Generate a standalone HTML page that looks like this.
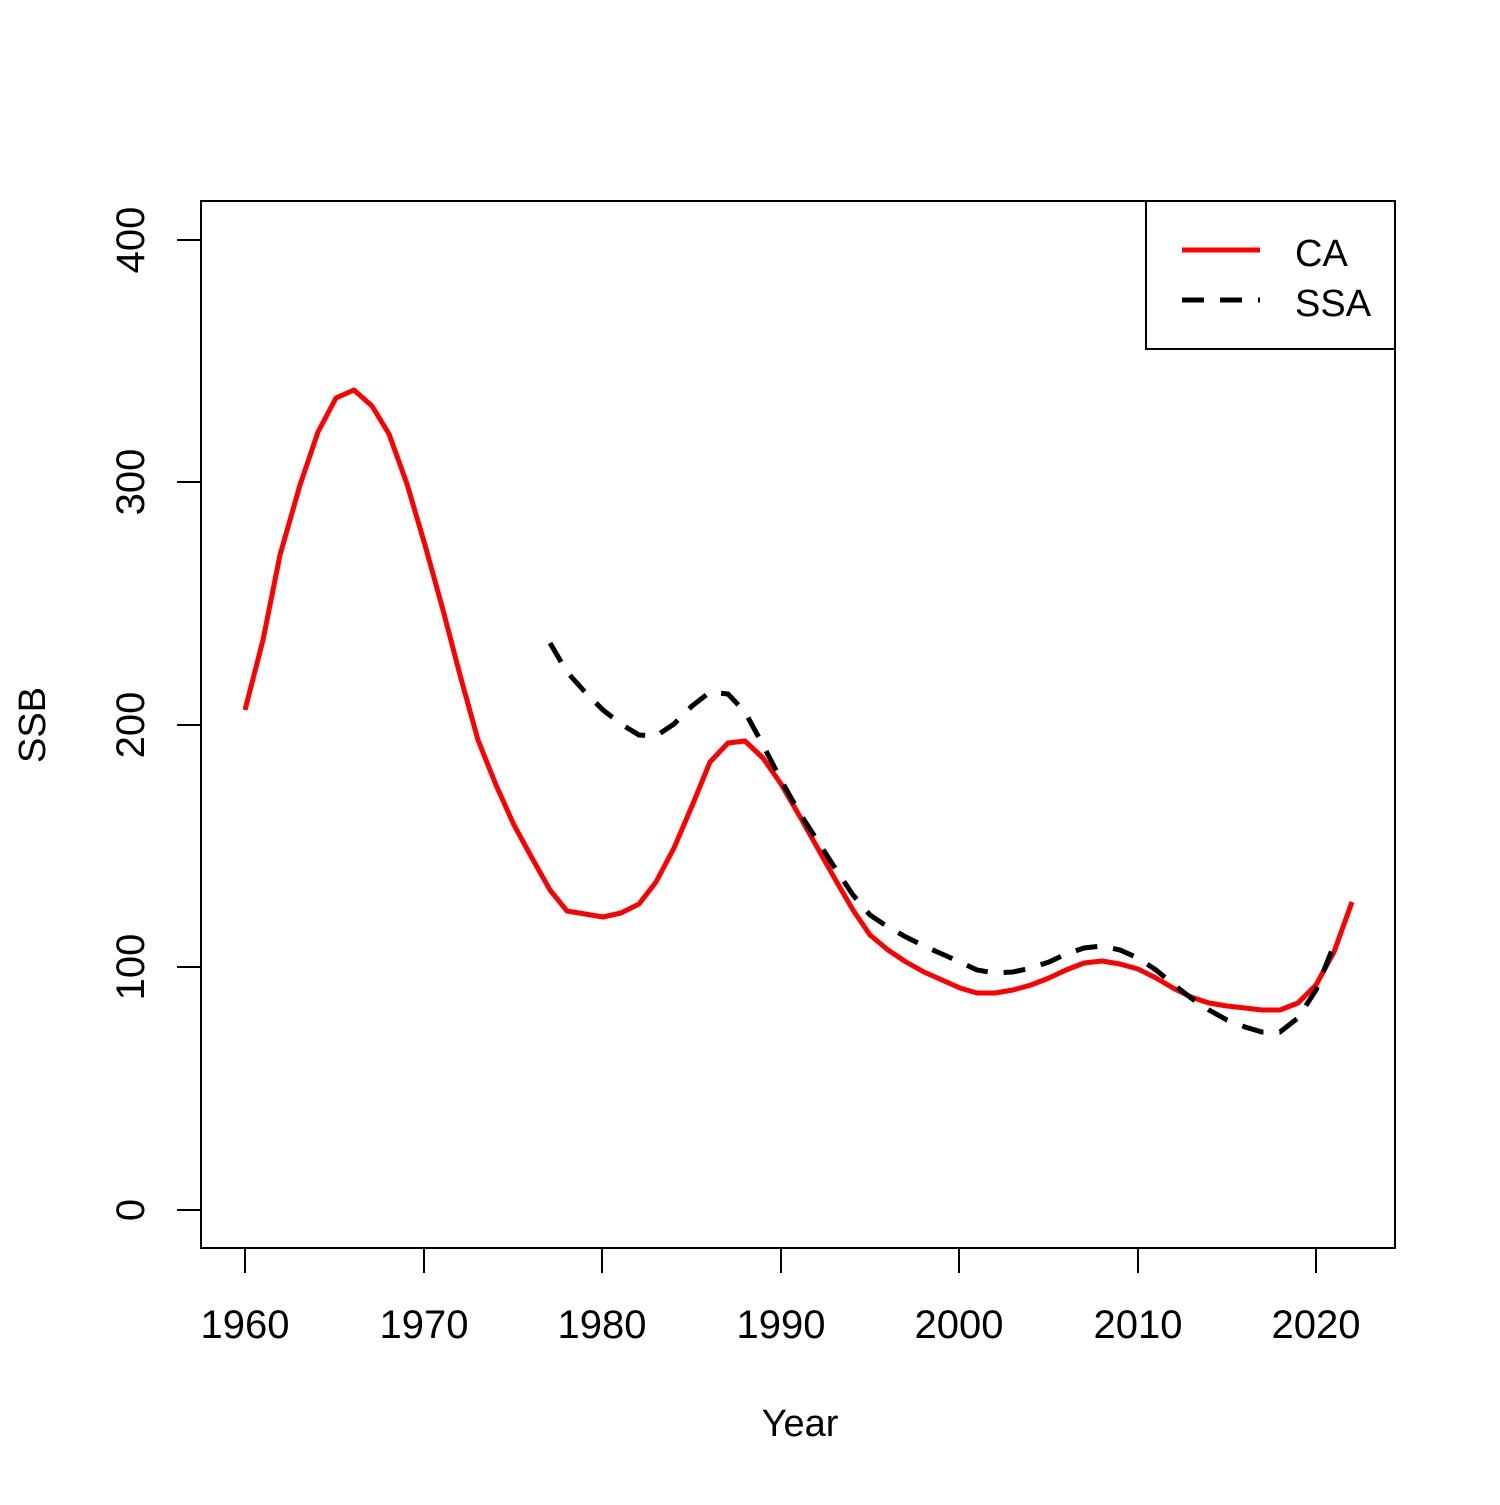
<!DOCTYPE html>
<html><head><meta charset="utf-8"><style>body{margin:0;background:#fff}</style></head><body>
<svg width="1500" height="1500" xmlns="http://www.w3.org/2000/svg" font-family="Liberation Sans, Arial, sans-serif">
<rect width="1500" height="1500" fill="#fff"/>
<rect x="201" y="201" width="1194" height="1047" fill="none" stroke="#000" stroke-width="2"/>
<g stroke="#000" stroke-width="2">
<line x1="245" y1="1248" x2="245" y2="1273"/><line x1="424" y1="1248" x2="424" y2="1273"/><line x1="602" y1="1248" x2="602" y2="1273"/><line x1="781" y1="1248" x2="781" y2="1273"/><line x1="959" y1="1248" x2="959" y2="1273"/><line x1="1138" y1="1248" x2="1138" y2="1273"/><line x1="1316" y1="1248" x2="1316" y2="1273"/>
<line x1="177" y1="240" x2="201" y2="240"/><line x1="177" y1="482" x2="201" y2="482"/><line x1="177" y1="725" x2="201" y2="725"/><line x1="177" y1="967" x2="201" y2="967"/><line x1="177" y1="1210" x2="201" y2="1210"/>
</g>
<g font-size="40" text-anchor="middle" fill="#000">
<text x="245" y="1338">1960</text><text x="424" y="1338">1970</text><text x="602" y="1338">1980</text><text x="781" y="1338">1990</text><text x="959" y="1338">2000</text><text x="1138" y="1338">2010</text><text x="1316" y="1338">2020</text>
<text x="800" y="1436" font-size="38">Year</text>
<text transform="translate(144,240) rotate(-90)">400</text>
<text transform="translate(144,482) rotate(-90)">300</text>
<text transform="translate(144,725) rotate(-90)">200</text>
<text transform="translate(144,967) rotate(-90)">100</text>
<text transform="translate(144,1210) rotate(-90)">0</text>
<text transform="translate(45,725) rotate(-90)" font-size="38">SSB</text>
</g>
<polyline fill="none" stroke="#f00" stroke-width="5" stroke-linejoin="round" points="245,710 263,640 280,555 300,485 318,432 336,398 354,390 372,406 389,434 407,484 425,545 443,610 460,675 478,740 496,785 514,825 532,858 550,890 567,911 585,914 603,917 621,913 639,904 656,882 674,848 692,806 710,762 728,743 745,741 763,758 781,784 799,815 817,847 835,879 853,910 870,935 888,950 906,962 924,972 942,980 960,988 977,993 995,993 1013,990 1031,985 1049,978 1066,970 1084,963 1102,961 1120,964 1138,969 1156,978 1173,988 1191,997 1209,1003 1227,1006 1245,1008 1262,1010 1280,1010 1298,1003 1316,985 1334,952 1352,902"/>
<polyline fill="none" stroke="#000" stroke-width="5" stroke-dasharray="22,16" points="550,643 567,672 585,692 603,710 621,724 639,735 656,736 674,724 692,706 710,692 728,694 745,712 763,745 781,780 799,812 817,840 835,868 853,895 870,915 888,927 906,937 924,946 942,954 960,962 977,970 995,973 1013,972 1031,968 1049,962 1066,954 1084,948 1102,946 1120,950 1138,958 1156,970 1173,984 1191,998 1209,1010 1227,1020 1245,1027 1262,1032 1280,1032 1298,1018 1316,990 1334,945"/>
<rect x="1146" y="201" width="249" height="148" fill="#fff" stroke="#000" stroke-width="2"/>
<line x1="1182" y1="250" x2="1260" y2="250" stroke="#f00" stroke-width="5"/>
<line x1="1182" y1="300" x2="1260" y2="300" stroke="#000" stroke-width="5" stroke-dasharray="22,16"/>
<text x="1295" y="266" font-size="38">CA</text>
<text x="1295" y="316" font-size="38">SSA</text>
</svg>
</body></html>
